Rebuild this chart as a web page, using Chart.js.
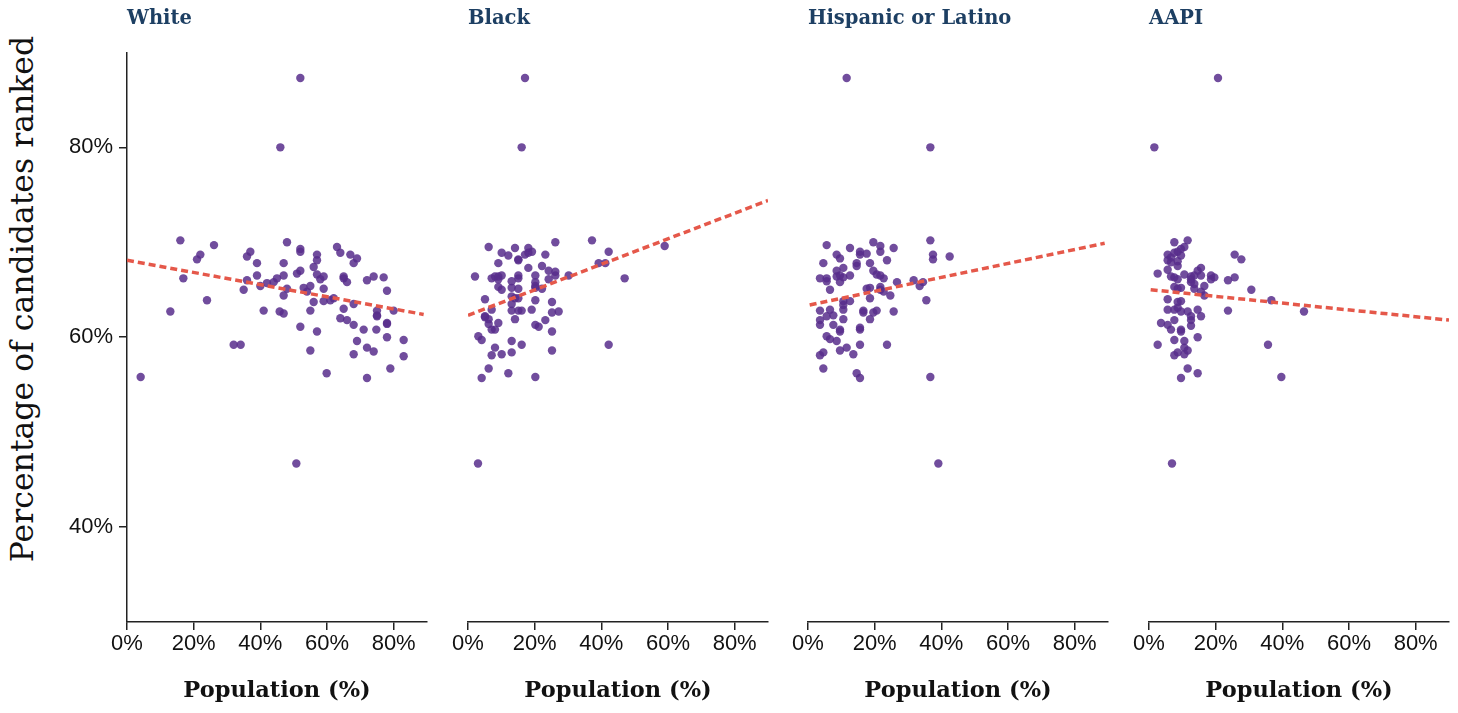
<!DOCTYPE html>
<html>
<head>
<meta charset="utf-8">
<script src="https://cdn.jsdelivr.net/npm/chart.js@4"></script>
<style>
body { margin: 0; background: #fff; width: 1458px; height: 713px; overflow: hidden; position: relative; font-family: 'DejaVu Serif', serif; }
.painel { position: absolute; top: 0; height: 713px; }
#tituloY { position: absolute; left: 22px; top: 299px; transform: translate(-50%, -50%) rotate(-90deg); white-space: nowrap; font-size: 31.5px; color: #111; }
</style>
</head>
<body>
<div id="tituloY">Percentage of candidates ranked</div>
<div class="painel" id="p0"><canvas id="c0"></canvas></div>
<div class="painel" id="p1"><canvas id="c1"></canvas></div>
<div class="painel" id="p2"><canvas id="c2"></canvas></div>
<div class="painel" id="p3"><canvas id="c3"></canvas></div>
<script>
// titulos dos paineis
const grupos = ['White', 'Black', 'Hispanic or Latino', 'AAPI'];

// eixos
const xTicks = [0, 20, 40, 60, 80];
const yTicks = [40, 60, 80];

// White
const whiteX = [52.0, 46.0, 50.8, 16.0, 26.1, 22.0, 21.0, 16.9, 24.0, 13.0, 4.1, 32.0, 34.1, 37.0, 36.0, 39.0, 39.0, 36.0, 35.0, 40.0,
  42.0, 44.0, 45.0, 47.0, 47.0, 48.0, 41.0, 45.8, 47.0, 47.0, 48.0, 52.0, 52.0, 51.0, 52.0, 53.0, 55.0, 54.0, 52.0, 55.0,
  56.0, 57.0, 55.0, 59.9, 56.0, 57.0, 57.0, 57.0, 58.0, 59.0, 59.0, 59.0, 61.0, 62.0, 63.0, 64.0, 65.0, 65.0, 66.0, 67.0,
  68.0, 69.0, 65.0, 64.0, 66.0, 68.0, 68.0, 71.0, 69.0, 68.0, 72.0, 74.0, 72.0, 72.0, 74.0, 77.0, 78.0, 75.0, 75.0, 75.0,
  74.8, 80.0, 78.0, 78.0, 78.0, 83.0, 83.0, 79.0];
const whiteY = [87.3, 80.0, 46.7, 70.2, 69.7, 68.7, 68.2, 66.2, 63.9, 62.7, 55.8, 59.2, 59.2, 69.0, 68.5, 67.8, 66.5, 66.0, 65.0, 65.4,
  65.7, 65.8, 66.2, 66.5, 67.8, 70.0, 62.8, 62.7, 62.5, 64.4, 65.1, 69.3, 69.0, 66.7, 67.0, 65.2, 65.4, 64.8, 61.1, 62.8,
  63.7, 60.6, 58.6, 56.2, 67.4, 68.7, 68.1, 66.6, 66.1, 66.4, 65.1, 63.8, 63.9, 64.1, 69.5, 68.9, 66.4, 66.2, 65.8, 68.7,
  67.8, 68.3, 63.0, 62.0, 61.8, 63.5, 61.3, 60.8, 59.6, 58.2, 58.9, 58.5, 55.7, 66.0, 66.4, 66.3, 64.9, 62.8, 62.3, 62.2,
  60.8, 62.8, 61.5, 61.4, 60.0, 59.7, 58.0, 56.7];

// Black
const blackX = [17.1, 16.1, 3.0, 6.2, 10.1, 12.1, 14.1, 15.1, 15.1, 18.1, 19.2, 17.1, 18.1, 23.2, 26.2, 37.2, 42.2, 39.2, 41.2, 59.0,
  47.0, 42.2, 9.1, 18.1, 22.2, 24.2, 26.2, 26.2, 30.2, 2.1, 7.1, 8.1, 9.1, 10.1, 9.1, 15.1, 15.1, 20.2, 20.2, 24.2,
  13.1, 9.1, 10.1, 13.1, 15.1, 20.2, 20.2, 22.2, 13.1, 14.1, 15.1, 20.2, 25.2, 5.1, 7.1, 13.1, 13.1, 15.1, 16.1, 19.1,
  25.2, 27.2, 5.1, 5.1, 6.2, 6.2, 7.1, 8.1, 9.1, 14.1, 20.2, 21.2, 23.2, 25.2, 3.1, 4.1, 13.1, 16.1, 8.1, 7.1,
  10.1, 13.1, 25.2, 6.2, 4.1, 12.1, 20.2];
const blackY = [87.3, 80.0, 46.7, 69.5, 68.9, 68.6, 69.4, 68.2, 68.1, 69.4, 69.0, 68.7, 68.9, 68.7, 70.0, 70.2, 69.0, 67.8, 67.8, 69.6,
  66.2, 59.2, 67.8, 67.3, 67.5, 67.0, 66.9, 66.5, 66.5, 66.4, 66.2, 66.4, 66.4, 66.5, 66.1, 66.5, 66.2, 66.5, 65.8, 66.1,
  65.9, 65.3, 65.0, 65.2, 65.1, 65.4, 65.2, 65.1, 64.3, 64.1, 64.1, 63.9, 63.7, 64.0, 62.9, 63.5, 62.8, 62.8, 62.8, 62.9,
  62.6, 62.7, 62.2, 62.1, 61.9, 61.4, 60.8, 60.8, 61.5, 61.9, 61.3, 61.1, 61.8, 60.6, 60.1, 59.7, 59.6, 59.2, 58.9, 58.1,
  58.2, 58.4, 58.6, 56.7, 55.7, 56.2, 55.8];

// Hispanic or Latino
const hispX = [11.6, 36.7, 39.1, 36.7, 36.7, 37.5, 37.5, 42.5, 35.5, 31.7, 33.5, 34.5, 26.7, 24.7, 25.7, 23.7, 25.7, 23.7, 19.6, 21.7,
  21.7, 17.6, 15.6, 15.6, 12.6, 5.6, 8.6, 9.6, 4.6, 14.6, 14.6, 18.6, 10.6, 8.6, 19.6, 20.6, 21.7, 22.7, 3.6, 5.6,
  5.6, 8.6, 9.6, 10.6, 12.6, 9.6, 6.6, 17.6, 18.6, 21.7, 21.7, 22.7, 18.6, 12.6, 10.6, 10.6, 3.6, 6.6, 10.6, 16.6,
  16.6, 19.6, 20.6, 5.6, 7.6, 3.6, 3.6, 7.6, 10.6, 9.6, 9.6, 15.6, 15.6, 18.6, 5.6, 6.6, 8.6, 15.6, 9.6, 11.6,
  13.6, 3.6, 4.6, 4.6, 14.6, 15.6];
const hispY = [87.3, 80.0, 46.7, 55.8, 70.2, 68.7, 68.2, 68.5, 63.9, 66.0, 65.4, 65.8, 65.8, 64.4, 62.7, 59.2, 69.4, 68.1, 70.0, 69.6,
  69.0, 68.8, 69.0, 68.7, 69.4, 69.7, 68.7, 68.3, 67.8, 67.8, 67.5, 67.8, 67.3, 67.0, 67.0, 66.6, 66.5, 66.2, 66.2, 66.2,
  65.9, 66.4, 66.5, 66.3, 66.5, 65.8, 65.0, 65.1, 65.2, 65.3, 65.0, 64.8, 64.1, 63.8, 63.8, 63.4, 62.8, 62.9, 62.9, 62.8,
  62.6, 62.6, 62.8, 62.2, 62.3, 61.8, 61.3, 61.3, 61.9, 60.8, 60.6, 61.0, 60.8, 61.9, 60.1, 59.8, 59.6, 59.2, 58.6, 58.9,
  58.2, 58.1, 58.4, 56.7, 56.2, 55.7];

// AAPI
const aapiX = [20.7, 1.6, 6.9, 11.6, 7.6, 10.6, 9.6, 5.6, 7.6, 8.6, 9.6, 6.6, 5.6, 6.6, 8.6, 8.6, 25.7, 27.7, 15.6, 14.6,
  2.6, 5.6, 6.6, 7.6, 8.6, 10.6, 12.6, 12.6, 13.6, 15.6, 18.6, 19.6, 18.6, 23.7, 25.7, 12.6, 13.6, 7.6, 8.6, 9.6,
  13.6, 16.6, 15.6, 16.6, 30.7, 36.7, 46.5, 23.7, 5.6, 8.6, 9.6, 8.6, 9.6, 7.6, 5.6, 11.6, 14.6, 12.6, 15.6, 12.6,
  7.6, 12.6, 3.6, 5.6, 6.6, 9.6, 9.6, 7.6, 10.6, 14.6, 2.6, 10.6, 11.6, 8.6, 7.6, 10.6, 35.7, 11.6, 14.6, 9.6,
  39.7];
const aapiY = [87.3, 80.0, 46.7, 70.2, 70.0, 69.5, 69.3, 68.7, 68.9, 69.0, 68.6, 68.4, 68.1, 67.9, 68.0, 67.5, 68.7, 68.2, 67.3, 67.0,
  66.7, 67.1, 66.4, 66.3, 66.1, 66.6, 66.4, 66.1, 66.5, 66.5, 66.5, 66.3, 66.1, 66.0, 66.3, 65.8, 65.6, 65.3, 65.1, 65.2,
  65.1, 65.4, 64.8, 64.4, 65.0, 63.9, 62.7, 62.8, 64.0, 63.7, 63.8, 63.1, 62.7, 62.9, 62.9, 62.7, 62.9, 62.2, 62.2, 61.8,
  61.8, 61.2, 61.5, 61.3, 60.8, 60.8, 60.6, 59.7, 59.6, 60.0, 59.2, 58.9, 58.6, 58.4, 58.1, 58.2, 59.2, 56.7, 56.2, 55.7,
  55.8];

// linhas de tendencia (inicio e fim)
const whiteTrendX = [0, 89];
const whiteTrendY = [68.1, 62.4];
const blackTrendX = [0, 90];
const blackTrendY = [62.3, 74.4];
const hispTrendX = [0.5, 89];
const hispTrendY = [63.4, 69.9];
const aapiTrendX = [0.5, 90];
const aapiTrendY = [65.0, 61.8];

const pontosX = [whiteX, blackX, hispX, aapiX];
const pontosY = [whiteY, blackY, hispY, aapiY];
const tendX = [whiteTrendX, blackTrendX, hispTrendX, aapiTrendX];
const tendY = [whiteTrendY, blackTrendY, hispTrendY, aapiTrendY];

Chart.defaults.font.family = "'DejaVu Serif', serif";
Chart.defaults.color = '#111';

const fonteTicks = { family: "'Liberation Sans', sans-serif", size: 22 };
const inicio = [127, 468, 808, 1149]; // onde comeca a area de cada painel
const larguraArea = 300;

function juntar(xs, ys) {
  return xs.map((x, k) => ({ x: x, y: ys[k] }));
}

for (let i = 0; i < 4; i++) {
  const primeiro = i === 0;
  const padL = primeiro ? 0 : 20;
  const left = primeiro ? 0 : inicio[i] - padL;
  const width = inicio[i] - left + larguraArea + 8;
  const div = document.getElementById('p' + i);
  div.style.left = left + 'px';
  div.style.width = width + 'px';

  new Chart(document.getElementById('c' + i), {
    type: 'scatter',
    data: {
      datasets: [{
        data: juntar(pontosX[i], pontosY[i]),
        backgroundColor: 'rgba(88, 46, 140, 0.85)',
        borderWidth: 0,
        pointRadius: 4.2,
        order: 1
      }, {
        data: juntar(tendX[i], tendY[i]),
        showLine: true,
        borderColor: '#e5584a',
        borderWidth: 3.5,
        borderDash: [7, 4],
        pointRadius: 0,
        order: 0
      }]
    },
    options: {
      responsive: true,
      maintainAspectRatio: false,
      animation: false,
      layout: { padding: { left: padL, right: 8, top: 0, bottom: 0 } },
      plugins: {
        legend: { display: false },
        tooltip: { enabled: false },
        title: {
          display: true,
          text: grupos[i],
          align: 'start',
          fullSize: false,
          color: '#1d3f63',
          font: { size: 19.5, weight: 'bold' },
          padding: { top: 7, bottom: 22 }
        }
      },
      scales: {
        x: {
          type: 'linear',
          min: 0,
          max: 90,
          afterBuildTicks: s => { s.ticks = xTicks.map(v => ({ value: v })); },
          afterFit: s => { s.height = 91; },
          ticks: { callback: v => v + '%', font: fonteTicks, padding: 1, maxRotation: 0 },
          grid: { drawOnChartArea: false, tickLength: 8, color: '#222', lineWidth: 1.5 },
          border: { color: '#222', width: 1.5 },
          title: { display: true, text: 'Population (%)', font: { size: 22.5, weight: 'bold' }, padding: { top: 0, bottom: 8 } }
        },
        y: {
          display: primeiro,
          min: 30,
          max: 90,
          afterBuildTicks: s => { s.ticks = yTicks.map(v => ({ value: v })); },
          afterFit: s => { if (primeiro) s.width = 127; },
          ticks: { callback: v => v + '%', font: fonteTicks, padding: 6 },
          grid: { drawOnChartArea: false, tickLength: 8, color: '#222', lineWidth: 1.5 },
          border: { color: '#222', width: 1.5 }
        }
      }
    }
  });
}
</script>
</body>
</html>
